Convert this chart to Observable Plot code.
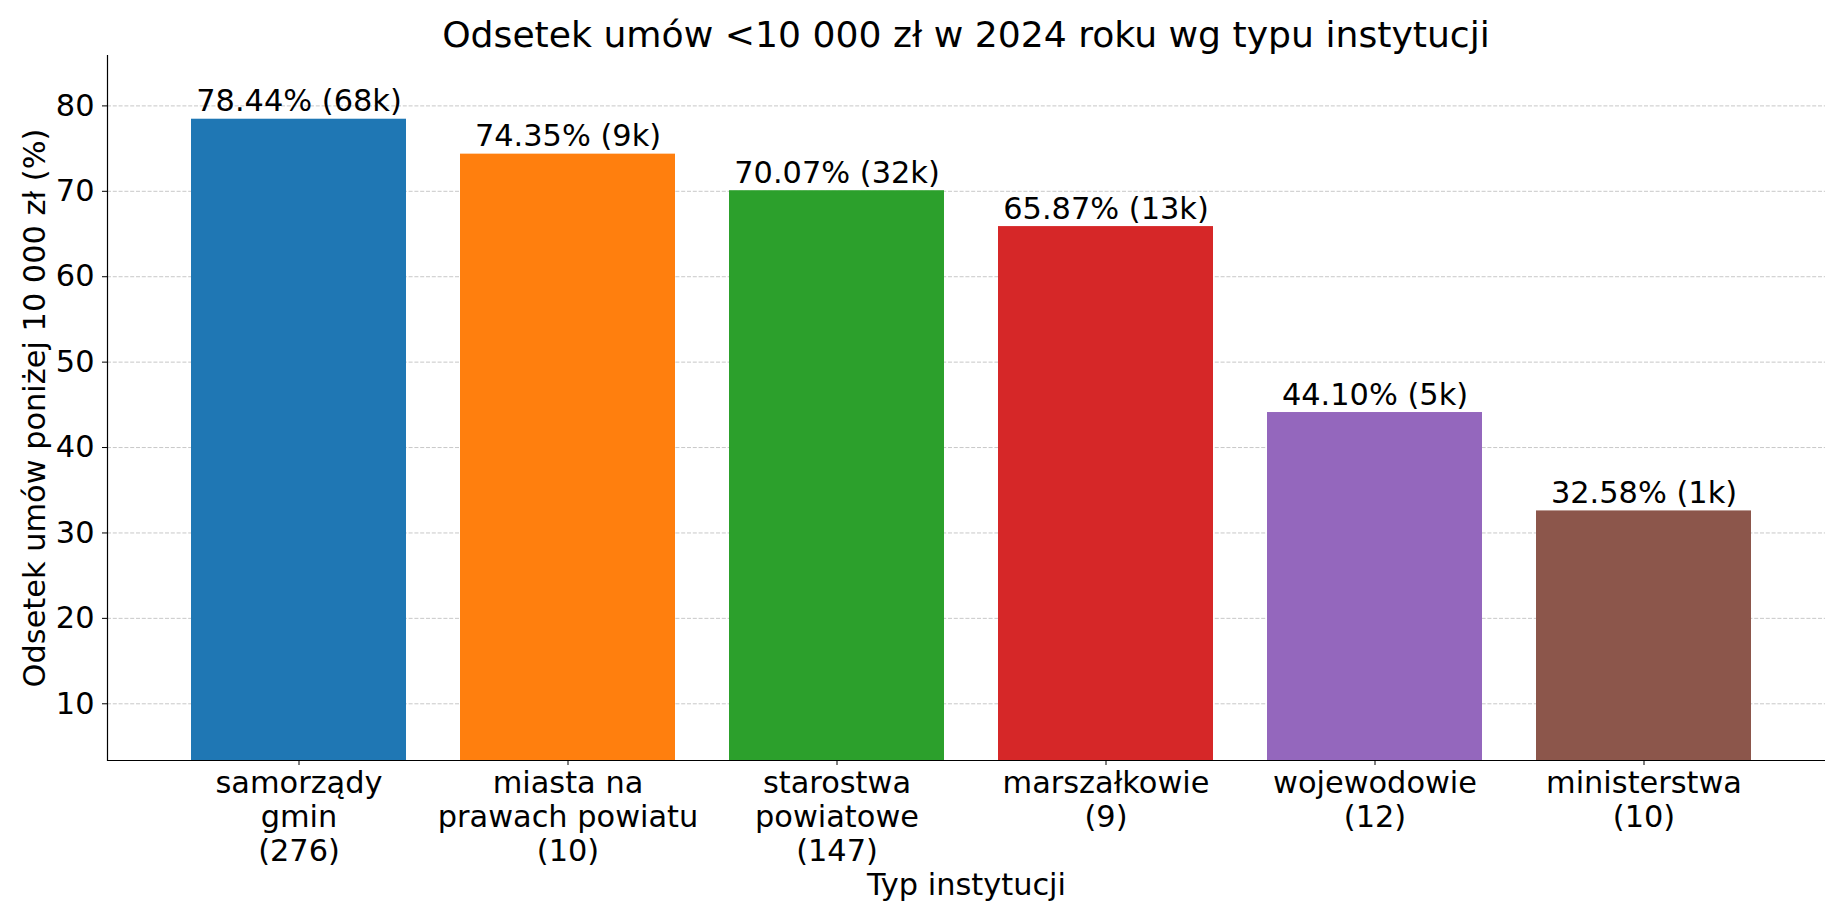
<!DOCTYPE html>
<html><head><meta charset="utf-8">
<script src="https://cdn.jsdelivr.net/npm/d3@7"></script>
<script src="https://cdn.jsdelivr.net/npm/@observablehq/plot@0.6"></script>
<style>
html,body{margin:0;padding:0;background:#fff;}
body{font-family:"DejaVu Sans",sans-serif;color:#000;width:1825px;}
#title{height:55px;box-sizing:border-box;padding-left:107px;text-align:center;font-size:36.15px;line-height:70px;white-space:nowrap;}
#chart svg{display:block;}
</style></head>
<body>
<div id="title">Odsetek umów &lt;10 000 zł w 2024 roku wg typu instytucji</div>
<div id="chart"></div>
<script>
const categories = [
  "samorządy\ngmin\n(276)",
  "miasta na\nprawach powiatu\n(10)",
  "starostwa\npowiatowe\n(147)",
  "marszałkowie\n(9)",
  "wojewodowie\n(12)",
  "ministerstwa\n(10)"
];
const values = [78.44, 74.35, 70.07, 65.87, 44.10, 32.58];
const counts = ["68k", "9k", "32k", "13k", "5k", "1k"];
const colors = ["#1f77b4", "#ff7f0e", "#2ca02c", "#d62728", "#9467bd", "#8c564b"];
const yTicks = [10, 20, 30, 40, 50, 60, 70, 80];
const yDomain = [3.36, 85.9];
const yLabel = "Odsetek umów poniżej 10 000 zł (%)";
const xLabel = "Typ instytucji";

const data = categories.map((c, i) => ({cat: c, value: values[i], label: `${values[i].toFixed(2)}% (${counts[i]})`}));
const yMin = yDomain[0];
const fs = 30.4;

const chart = Plot.plot({
  width: 1825,
  height: 862,
  marginLeft: 107,
  marginRight: 0,
  marginTop: 0,
  marginBottom: 157,
  style: {fontFamily: "DejaVu Sans, sans-serif", fontSize: fs + "px", color: "#000", background: "#fff", overflow: "visible"},
  x: {type: "band", domain: categories, range: [107, 1835], paddingInner: 0.2, paddingOuter: 0.308, align: 0.5},
  y: {domain: yDomain},
  color: {domain: categories, range: colors},
  marks: [
    Plot.ruleY(yTicks, {stroke: "#b0b0b0", strokeOpacity: 0.7, strokeWidth: 1, strokeDasharray: "4,1.8"}),
    Plot.barY(data, {x: "cat", y: "value", fill: "cat", clip: true}),
    Plot.text(data, {x: "cat", y: "value", text: "label", lineAnchor: "bottom", dy: -8, fontSize: fs, fill: "#000"}),
    Plot.axisY({ticks: yTicks, tickSize: 5, tickPadding: 8, fontSize: fs, label: null, stroke: "#000", fill: "#000", strokeWidth: 1}),
    Plot.axisX({tickSize: 5, tickPadding: 4, fontSize: fs, label: null, lineHeight: 1.11, stroke: "#000", fill: "#000", strokeWidth: 1}),
    Plot.ruleY([yMin], {stroke: "#000", strokeWidth: 1.2}),
    Plot.frame({anchor: "left", stroke: "#000", strokeWidth: 1.2}),
    Plot.text([yLabel], {frameAnchor: "left", rotate: -90, dx: -72, lineAnchor: "middle", textAnchor: "middle", fontSize: fs, fill: "#000"}),
    Plot.text([xLabel], {frameAnchor: "bottom", dy: 125, lineAnchor: "middle", textAnchor: "middle", fontSize: fs, fill: "#000"})
  ]
});
document.getElementById("chart").appendChild(chart);
</script>
</body></html>
